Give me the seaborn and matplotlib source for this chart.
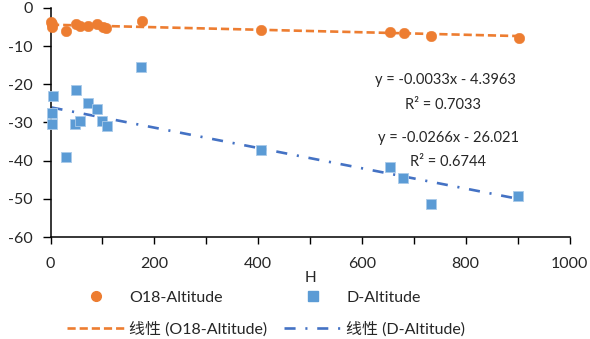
import numpy as np
import pandas as pd
import matplotlib
matplotlib.use("Agg")
import matplotlib.pyplot as plt
from matplotlib.lines import Line2D
from matplotlib.ticker import MultipleLocator
import seaborn as sns

# ---- data ----
o18_h = [1, 3, 2, 29, 50, 57, 73, 89, 102, 107, 176, 405, 654, 682, 734, 903]
o18_v = [-3.6, -4.3, -5.0, -6.0, -4.2, -4.7, -4.7, -4.2, -4.9, -5.3, -3.4, -5.8, -6.4, -6.7, -7.3, -7.8]
d_h = [5, 2, 3, 30, 49, 47, 57, 73, 89, 100, 108, 174, 405, 655, 680, 734, 901]
d_v = [-23.1, -27.6, -30.4, -39.0, -21.5, -30.4, -29.6, -24.8, -26.5, -29.5, -30.9, -15.6, -37.2, -41.6, -44.6, -51.4, -49.2]
o18_fit = (-0.0033, -4.3963, 0.7033)
d_fit = (-0.0266, -26.021, 0.6744)
x_ticks = [0, 200, 400, 600, 800, 1000]
y_ticks = [0, -10, -20, -30, -40, -50, -60]
series_names = ["O18-Altitude", "D-Altitude"]
trend_names = ["线性 (O18-Altitude)", "线性 (D-Altitude)"]

ORANGE = "#ED7D31"
BLUE = "#5B9BD5"
BLUE_LINE = "#4472C4"
O_DASH = (0, (3.1, 1.5))
B_DASH = (0, (4.2, 3.7, 0.8, 3.7))

sns.set_style("white")
plt.rcParams["font.family"] = ["Lato", "Noto Sans CJK SC", "DejaVu Sans"]
plt.rcParams["axes.unicode_minus"] = False

fig = plt.figure(figsize=(5.9, 3.39), dpi=100)
ax = fig.add_axes([50.5 / 590, 1 - 237.1 / 339, (569.5 - 50.5) / 590, (237.1 - 7.9) / 339])

df_o = pd.DataFrame({"H": o18_h, "v": o18_v})
df_d = pd.DataFrame({"H": d_h, "v": d_v})

def trend(h, fit):
    xs = np.array([min(h), max(h)], dtype=float)
    return pd.DataFrame({"H": xs, "v": fit[0] * xs + fit[1]})

sns.lineplot(data=trend(o18_h, o18_fit), x="H", y="v", ax=ax, color=ORANGE,
             linewidth=1.9, linestyle=O_DASH, zorder=2)
sns.lineplot(data=trend(d_h, d_fit), x="H", y="v", ax=ax, color=BLUE_LINE,
             linewidth=1.9, linestyle=B_DASH, zorder=2)

sns.scatterplot(data=df_d, x="H", y="v", ax=ax, marker="s", s=48, color=BLUE,
                edgecolor="#A9CAE9", linewidth=0.6, zorder=3, clip_on=False)
sns.scatterplot(data=df_o, x="H", y="v", ax=ax, marker="o", s=58, color=ORANGE,
                edgecolor=ORANGE, linewidth=0.3, zorder=4, clip_on=False)

ax.set_xlim(0, 1000)
ax.set_ylim(-60, 0)
ax.set_xticks(x_ticks)
ax.xaxis.set_minor_locator(MultipleLocator(100))
ax.set_yticks(y_ticks)
ax.set_xticklabels([str(t) for t in x_ticks], fontsize=11.5)
ax.set_yticklabels([str(t) for t in y_ticks], fontsize=11.5)
ax.tick_params(axis="x", which="both", direction="out", length=5, width=1, color="black",
               bottom=True, pad=9)
ax.tick_params(axis="y", which="both", direction="out", length=6, width=1, color="black",
               left=True, pad=7)
for s in ["top", "right"]:
    ax.spines[s].set_visible(False)
for s in ["left", "bottom"]:
    ax.spines[s].set_color("black")
    ax.spines[s].set_linewidth(1.1)

ax.set_xlabel("H", fontsize=11, labelpad=0)
ax.set_ylabel("")

ax.text(760, -18.9, f"y = {o18_fit[0]:.4f}x - {abs(o18_fit[1]):.4f}", ha="center", va="center", fontsize=10.5)
ax.text(756, -25.4, f"R² = {o18_fit[2]:.4f}", ha="center", va="center", fontsize=10.5)
ax.text(766, -34.1, f"y = {d_fit[0]:.4f}x - {abs(d_fit[1]):.3f}", ha="center", va="center", fontsize=10.5)
ax.text(766, -40.3, f"R² = {d_fit[2]:.4f}", ha="center", va="center", fontsize=10.5)

handles = [
    Line2D([], [], marker="o", linestyle="none", color=ORANGE, markersize=7),
    Line2D([], [], color=ORANGE, linewidth=1.9, linestyle=O_DASH),
    Line2D([], [], marker="s", linestyle="none", color=BLUE, markersize=6.5),
    Line2D([], [], color=BLUE_LINE, linewidth=1.9, linestyle=B_DASH),
]
labels = [series_names[0], trend_names[0], series_names[1], trend_names[1]]
fig.legend(handles, labels, loc="center", bbox_to_anchor=(266 / 590, 1 - 313.5 / 339),
           ncol=2, frameon=False, fontsize=11.5, handlelength=3.6, handletextpad=0.3,
           columnspacing=1.05, labelspacing=1.05, borderpad=0)

fig.savefig("out.png", dpi=100, facecolor="white")
